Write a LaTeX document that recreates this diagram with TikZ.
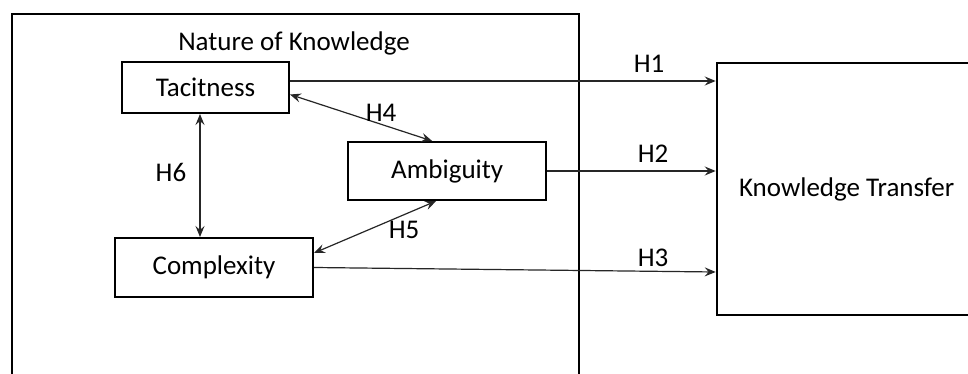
\documentclass[tikz,border=0pt]{standalone}
\usepackage{fontspec}
\setmainfont{Carlito}
\usetikzlibrary{arrows.meta}
\begin{document}
\begin{tikzpicture}[x=1pt,y=-1pt,
  every node/.style={font=\fontsize{27}{31}\selectfont, text=black},
  box/.style={draw=black, line width=2pt, inner sep=0pt, text=black},
  conn/.style={line width=1.2pt, draw=black!85, -{Stealth[length=11pt,width=9pt,inset=4pt]}},
  biconn/.style={line width=1.2pt, draw=black!85, {Stealth[length=11pt,width=9pt,inset=4pt]}-{Stealth[length=11pt,width=9pt,inset=4pt]}},
  lbl/.style={inner sep=0pt}]
\useasboundingbox (0,0) rectangle (968,374);
\fill[white] (0,0) rectangle (968,374);
% outer container (bottom edge off the picture)
\node[box, minimum width=567pt, minimum height=380pt, anchor=north west] (nok) at (10.7,13.3) {};
\node[lbl] (title) at (294,43) {Nature of Knowledge};
% knowledge transfer box (right edge off the picture)
\node[box, minimum width=260pt, minimum height=252pt] (kt) at (846.7,189) {Knowledge Transfer};
% inner boxes
\node[box, minimum width=167pt, minimum height=51pt] (tac) at (205.5,87.5) {Tacitness};
\node[box, minimum width=198.5pt, minimum height=58pt] (amb) at (447.2,171) {Ambiguity};
\node[box, minimum width=198pt, minimum height=59pt] (cpx) at (214,267.5) {Complexity};
% connectors to KT
\draw[conn] ([yshift=6.5pt]tac.east) -- ([yshift=6.5pt]tac.east -| kt.west);
\draw[conn] (amb.east) -- (amb.east -| kt.west);
\draw[conn] (cpx.east) -- ([yshift=-4.5pt]cpx.east -| kt.west);
% internal relations
\draw[biconn] ([yshift=-7pt]tac.east) -- ([xshift=-15pt]amb.north);
\draw[biconn] ([yshift=14.5pt]cpx.east) -- ([xshift=-11pt]amb.south);
\draw[biconn] ([xshift=-5.5pt]tac.south) -- ([xshift=-5.5pt]tac.south |- cpx.north);
% labels
\node[lbl] (h1) at (649,64) {H1};
\node[lbl] (h2) at (653,154) {H2};
\node[lbl] (h3) at (653,258) {H3};
\node[lbl] (h4) at (381,113) {H4};
\node[lbl] (h5) at (404,230) {H5};
\node[lbl] (h6) at (171,172) {H6};
\end{tikzpicture}
\end{document}
